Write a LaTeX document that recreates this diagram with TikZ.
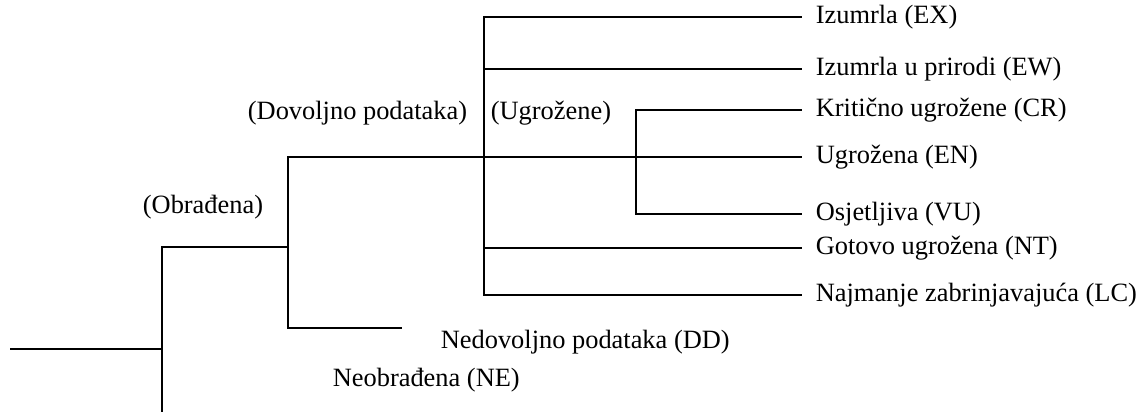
\documentclass[tikz,border=0pt]{standalone}
\usepackage{fontspec}
\setmainfont{Liberation Serif}

\begin{document}
\begin{tikzpicture}[x=0.5pt, y=-0.5pt, line width=0.85pt,
        every node/.append style={font=\fontsize{13.2}{16}\selectfont}]
      \tikzstyle{leaf} = [anchor=west,inner xsep=6.5pt,inner ysep=0pt]
      \tikzstyle{group} = [inner sep=0pt]
      \useasboundingbox (0,0) rectangle (1141,412);
      % branch points
      \coordinate (root) at (10,349);
      \coordinate (split) at (162,349);
      \coordinate (obr) at (288,247);
      \coordinate (ugr) at (484,157);
      \coordinate (krit) at (636,157);
      \coordinate (ddend) at (402,328);
      \coordinate (neend) at (162,412);
      % categories
      \node (EX) [leaf] at (802,17) {Izumrla (EX)};
      \node (EW) [leaf] at (802,69) {Izumrla u prirodi (EW)};
      \node (CR) [leaf] at (802,110) {Kritično ugrožene (CR)};
      \node (EN) [leaf] at (802,157) {Ugrožena (EN)};
      \node (VU) [leaf] at (802,214) {Osjetljiva (VU)};
      \node (NT) [leaf] at (802,248) {Gotovo ugrožena (NT)};
      \node (LC) [leaf] at (802,295) {Najmanje zabrinjavajuća (LC)};
      \node (DD) [group,anchor=west] at (440,342) {Nedovoljno podataka (DD)};
      \node (NE) [group,anchor=west] at (332,380) {Neobrađena (NE)};
      \node (Obradena) [group] at (203,207) {(Obrađena)};
      \node (Dovoljno) [group,anchor=east] at (468,113) {(Dovoljno podataka)};
      \node (Ugrozene) [group,anchor=west] at (490,113) {(Ugrožene)};
      % tree
      \draw (root) -- (split);
      \draw (split) |- (obr);
      \draw (split) -- (neend);
      \draw (obr) |- (ugr);
      \draw (obr) |- (ddend);
      \draw (ugr) |- (EX);
      \draw (ugr) |- (EW);
      \draw (ugr) -- (krit);
      \draw (krit) |- (CR);
      \draw (krit) -- (EN);
      \draw (krit) |- (VU);
      \draw (ugr) |- (NT);
      \draw (ugr) |- (LC);
\end{tikzpicture}
\end{document}
